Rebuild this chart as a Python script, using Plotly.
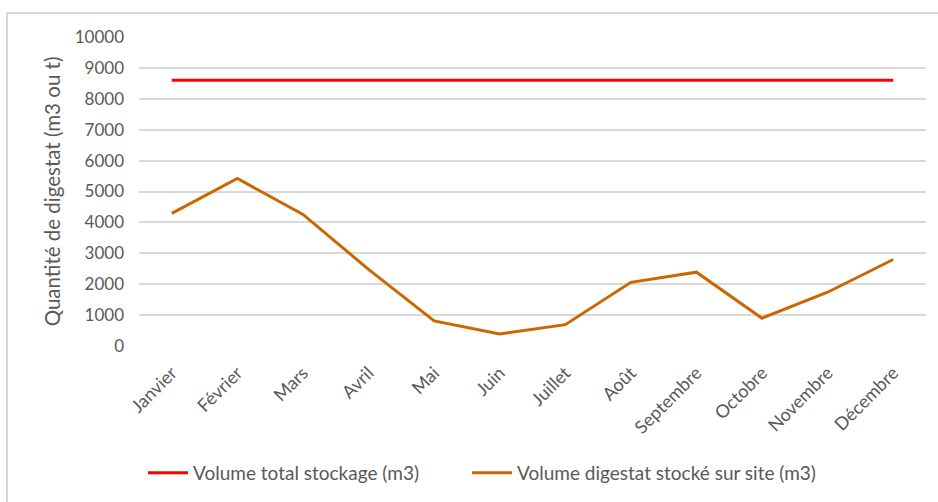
import plotly.graph_objects as go

months = ["Janvier", "Février", "Mars", "Avril", "Mai", "Juin", "Juillet",
          "Août", "Septembre", "Octobre", "Novembre", "Décembre"]
volume_total = [8600] * 12
volume_digestat = [4290, 5420, 4260, 2480, 810, 390, 690, 2060, 2390, 900, 1740, 2800]

name_total = "Volume total stockage (m3)"
name_digestat = "Volume digestat stocké sur site (m3)"
y_title = "Quantité de digestat (m3 ou t)"

FONT = "Lato"
GRAY = "#595959"

L, R, T, B = 139, 12, 37, 155
PW, PH = 938 - L - R, 502 - T - B


def px_x(p):
    return (p - L) / PW


def px_y(p):
    return (502 - B - p) / PH


fig = go.Figure()
fig.add_trace(go.Scatter(x=months, y=volume_total, mode="lines", name=name_total,
                         line=dict(color="#FF0000", width=3), legend="legend"))
fig.add_trace(go.Scatter(x=months, y=volume_digestat, mode="lines", name=name_digestat,
                         line=dict(color="#CC6600", width=3), legend="legend2"))

legend_common = dict(orientation="h", yanchor="middle", y=px_y(473),
                     font=dict(family=FONT, size=19, color=GRAY),
                     bgcolor="rgba(0,0,0,0)", itemwidth=40)

fig.update_layout(
    width=938, height=502,
    margin=dict(l=L, r=R, t=T, b=B),
    paper_bgcolor="white", plot_bgcolor="white",
    font=dict(family=FONT, size=17, color=GRAY),
    showlegend=True,
    legend=dict(x=px_x(143), xanchor="left", **legend_common),
    legend2=dict(x=px_x(467), xanchor="left", **legend_common),
    shapes=[dict(type="rect", xref="paper", yref="paper",
                 x0=px_x(7), x1=px_x(941),
                 y0=px_y(505), y1=px_y(13),
                 line=dict(color="#d9d9d9", width=2), fillcolor="rgba(0,0,0,0)",
                 layer="below")],
)
fig.update_xaxes(range=[-0.5, 11.5], showgrid=False, showline=False, ticks="",
                 tickangle=-45, ticklabelstandoff=12,
                 tickfont=dict(family=FONT, size=18, color=GRAY))
fig.update_yaxes(range=[0, 10000], dtick=1000, showgrid=True, gridcolor="#d9d9d9",
                 gridwidth=1.5, zeroline=False, showline=False, tickformat="d",
                 ticklabelstandoff=14,
                 tickfont=dict(family=FONT, size=17, color=GRAY),
                 title=dict(text=y_title, font=dict(family=FONT, size=20.5, color=GRAY),
                            standoff=8))

fig.write_html("out.html", config={"displayModeBar": False},
               post_script="document.body.style.margin='0';")
